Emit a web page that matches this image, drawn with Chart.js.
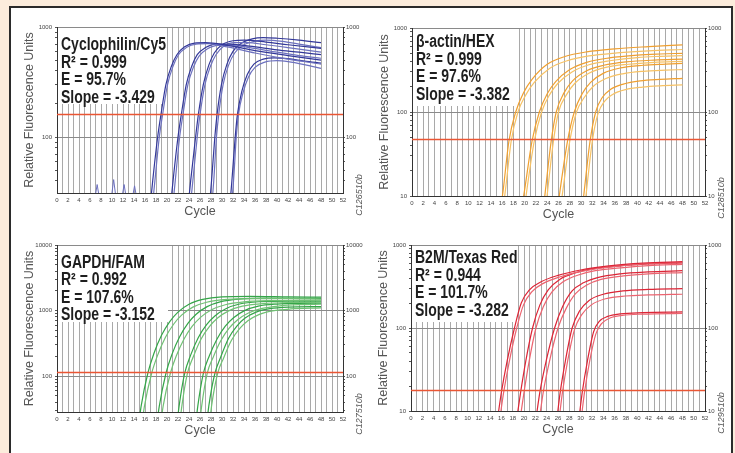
<!DOCTYPE html>
<html>
<head>
<meta charset="utf-8">
<script src="https://cdn.jsdelivr.net/npm/chart.js@4.4.1/dist/chart.umd.min.js"></script>
<style>
    body { margin: 0; width: 735px; height: 453px; overflow: hidden; background: #fcecdc; position: relative; }
    #frame { position: absolute; left: 9px; top: 6px; width: 724px; height: 470px; box-sizing: border-box; border: 2px solid #2b2b2b; background: #fff; }
    canvas { position: absolute; }
</style>
</head>
<body>
<div id="frame"></div>
<canvas id="c1"></canvas>
<canvas id="c2"></canvas>
<canvas id="c3"></canvas>
<canvas id="c4"></canvas>
<script>
// x axis: cycles 0..52, a grid line every cycle, a label every 2
var cycleLabels = [0, 2, 4, 6, 8, 10, 12, 14, 16, 18, 20, 22, 24, 26, 28, 30, 32, 34, 36, 38, 40, 42, 44, 46, 48, 50, 52];

// ---- Cyclophilin / Cy5 ----
var cy5Text = ["Cyclophilin/Cy5", "R² = 0.999", "E = 95.7%", "Slope = -3.429"];
var cy5Threshold = 160;
var cy5Ticks = [40, 50, 60, 70, 80, 90, 100, 200, 300, 400, 500, 600, 700, 800, 900, 1000];
var cy5Labels = [100, 1000];
var cy5Curves = [
    [[16.8, 20], [17.4, 40], [18.3, 100], [18.9, 160], [19.8, 300], [20.8, 440], [21.8, 560], [23.2, 660], [25, 715], [27, 720], [31, 680], [36, 610], [42, 550], [48, 500]],
    [[17.2, 20], [17.8, 40], [18.6, 100], [19.2, 160], [20.1, 300], [21.1, 440], [22.1, 560], [23.5, 650], [25.3, 700], [27.5, 705], [31, 660], [36, 580], [42, 510], [48, 460]],
    [[20.5, 20], [21.1, 40], [22.0, 100], [22.6, 160], [23.5, 300], [24.5, 440], [25.5, 560], [27, 650], [29, 700], [31, 700], [35, 670], [40, 620], [44, 590], [48, 560]],
    [[20.9, 20], [21.5, 40], [22.3, 100], [22.9, 160], [23.8, 300], [24.8, 430], [25.8, 540], [27.3, 630], [29.3, 680], [31.5, 680], [35, 650], [40, 590], [44, 550], [48, 520]],
    [[23.7, 20], [24.3, 40], [25.2, 100], [25.7, 160], [26.6, 300], [27.6, 450], [28.6, 580], [30, 690], [32, 750], [34, 760], [38, 730], [42, 690], [48, 640]],
    [[24.1, 20], [24.7, 40], [25.5, 100], [26.0, 160], [26.9, 300], [27.9, 440], [28.9, 560], [30.3, 670], [32.3, 720], [34.5, 720], [38, 690], [42, 650], [48, 590]],
    [[27.6, 20], [28.1, 40], [28.7, 100], [29.1, 160], [29.9, 300], [30.9, 460], [32, 600], [33.5, 710], [35.5, 780], [37.5, 800], [40, 790], [44, 760], [48, 720]],
    [[28.0, 20], [28.5, 40], [29.0, 100], [29.4, 160], [30.2, 300], [31.2, 450], [32.3, 580], [33.8, 680], [35.8, 740], [38, 760], [41, 740], [44, 700], [48, 650]],
    [[31.3, 20], [31.8, 40], [32.4, 100], [32.8, 160], [33.6, 260], [34.6, 370], [35.8, 460], [37.5, 510], [39.5, 525], [42, 515], [45, 490], [48, 470]],
    [[31.6, 20], [32.1, 40], [32.6, 100], [33.0, 160], [33.8, 250], [34.8, 350], [36, 430], [37.8, 480], [40, 495], [42, 485], [45, 455], [48, 420]]
];
// baseline noise spikes before take-off
var cy5Noise = [[0, 26], [6.8, 26], [7.3, 37], [7.8, 26], [9.8, 26], [10.3, 41], [10.8, 26], [11.7, 26], [12.2, 37], [12.7, 26], [13.6, 26], [14.1, 36], [14.6, 26], [17, 26]];

// ---- beta-actin / HEX ----
var hexText = ["β-actin/HEX", "R² = 0.999", "E = 97.6%", "Slope = -3.382"];
var hexThreshold = 47;
var hexTicks = [10, 20, 30, 40, 50, 60, 70, 80, 90, 100, 200, 300, 400, 500, 600, 700, 800, 900, 1000];
var hexLabels = [10, 100, 1000];
var hexCurves = [
    [[15.6, 6], [16.2, 12], [17.2, 45], [18.4, 100], [19.8, 170], [21.3, 245], [24, 370], [27, 455], [31, 520], [36, 565], [42, 600], [48, 630]],
    [[16.0, 6], [16.6, 12], [17.6, 45], [18.8, 100], [20.2, 160], [21.7, 225], [24.4, 330], [27.4, 405], [31.4, 465], [36.4, 505], [42, 535], [48, 555]],
    [[19.3, 6], [20.0, 12], [21.3, 45], [22.6, 100], [24, 165], [25.5, 230], [28, 320], [31, 390], [35, 440], [40, 475], [44, 490], [48, 500]],
    [[19.8, 6], [20.4, 12], [21.7, 45], [23.0, 100], [24.4, 160], [25.9, 220], [28.4, 300], [31.4, 365], [35.4, 410], [40, 445], [44, 460], [48, 470]],
    [[23.2, 6], [23.7, 12], [24.7, 45], [25.6, 100], [27, 170], [28.5, 235], [31, 310], [34, 360], [38, 395], [43, 415], [48, 425]],
    [[23.6, 6], [24.1, 12], [25.1, 45], [26.0, 100], [27.4, 160], [28.9, 220], [31.4, 290], [34.4, 340], [38.4, 370], [43, 390], [48, 400]],
    [[25.7, 6], [26.3, 12], [27.6, 45], [28.8, 100], [30.2, 165], [31.7, 225], [34, 290], [37, 335], [41, 360], [45, 372], [48, 380]],
    [[26.2, 6], [26.8, 12], [28.0, 45], [29.2, 100], [30.6, 150], [32.1, 200], [34.4, 250], [37.4, 285], [41, 305], [45, 315], [48, 320]],
    [[30.1, 6], [30.6, 12], [31.6, 45], [32.6, 100], [33.8, 150], [35.2, 185], [37.5, 215], [40.5, 235], [44, 245], [48, 252]],
    [[30.5, 6], [31.0, 12], [32.0, 45], [33.0, 95], [34.2, 135], [35.6, 162], [37.9, 185], [40.9, 198], [44, 205], [48, 210]]
];

// ---- GAPDH / FAM ----
var famText = ["GAPDH/FAM", "R² = 0.992", "E = 107.6%", "Slope = -3.152"];
var famThreshold = 114;
var famTicks = [30, 40, 50, 60, 70, 80, 90, 100, 200, 300, 400, 500, 600, 700, 800, 900, 1000, 2000, 3000, 4000, 5000, 6000, 7000, 8000, 9000, 10000];
var famLabels = [100, 1000, 10000];
var famCurves = [
    [[14.7, 15], [15.3, 35], [16.5, 110], [17.6, 220], [19, 420], [20.5, 680], [22, 950], [24, 1250], [26.5, 1480], [30, 1620], [35, 1650], [42, 1620], [48, 1600]],
    [[15.3, 15], [15.9, 35], [17.2, 110], [18.3, 210], [19.7, 390], [21.2, 620], [22.7, 860], [24.7, 1130], [27.2, 1340], [31, 1480], [36, 1520], [42, 1520], [48, 1500]],
    [[18.0, 15], [18.6, 35], [19.8, 110], [20.9, 215], [22.3, 400], [23.8, 640], [25.3, 880], [27.3, 1150], [29.8, 1370], [33, 1500], [38, 1550], [48, 1540]],
    [[18.7, 15], [19.3, 35], [20.6, 110], [21.7, 205], [23.1, 370], [24.6, 580], [26.1, 790], [28.1, 1030], [30.6, 1230], [34, 1360], [39, 1420], [48, 1440]],
    [[21.7, 15], [22.2, 35], [23.2, 110], [24.3, 210], [25.7, 390], [27.2, 610], [28.7, 830], [30.7, 1070], [33.2, 1260], [37, 1370], [42, 1400], [48, 1400]],
    [[22.2, 15], [22.7, 35], [23.7, 110], [24.8, 200], [26.2, 370], [27.7, 570], [29.2, 770], [31.2, 990], [33.7, 1170], [37.5, 1280], [42, 1330], [48, 1340]],
    [[25.1, 15], [25.6, 35], [26.6, 110], [27.7, 205], [29.1, 370], [30.6, 580], [32.1, 780], [34.1, 1000], [36.6, 1170], [40, 1260], [44, 1290], [48, 1300]],
    [[25.8, 15], [26.3, 35], [27.3, 110], [28.4, 195], [29.8, 350], [31.3, 540], [32.8, 720], [34.8, 920], [37.3, 1080], [40.5, 1180], [44, 1230], [48, 1250]],
    [[27.1, 15], [27.6, 35], [28.7, 110], [29.8, 200], [31.2, 380], [32.7, 580], [34.2, 770], [36.2, 950], [38.7, 1070], [42, 1130], [48, 1150]],
    [[27.6, 15], [28.1, 35], [29.2, 110], [30.3, 190], [31.7, 350], [33.2, 530], [34.7, 700], [36.7, 870], [39.2, 990], [42.5, 1060], [48, 1100]]
];

// ---- B2M / Texas Red ----
var texText = ["B2M/Texas Red", "R² = 0.944", "E = 101.7%", "Slope = -3.282"];
var texThreshold = 17.6;
var texTicks = [10, 20, 30, 40, 50, 60, 70, 80, 90, 100, 200, 300, 400, 500, 600, 700, 800, 900, 1000];
var texLabels = [10, 100, 1000];
var texCurves = [
    [[15.3, 8], [16.0, 17], [17.0, 40], [18.3, 100], [19.5, 200], [21, 290], [23, 360], [26, 430], [30, 500], [35, 560], [41, 605], [48, 630]],
    [[15.7, 8], [16.4, 17], [17.4, 40], [18.7, 100], [19.9, 190], [21.4, 275], [23.4, 345], [26.4, 415], [30.4, 485], [35.4, 545], [41, 590], [48, 615]],
    [[18.7, 8], [19.4, 17], [20.3, 40], [21.5, 100], [22.8, 190], [24.3, 290], [26.3, 385], [29, 460], [32, 515], [37, 560], [42, 590], [48, 610]],
    [[19.3, 8], [20.0, 17], [20.9, 40], [22.1, 100], [23.4, 180], [24.9, 270], [26.9, 360], [29.6, 435], [32.6, 490], [37.6, 535], [42, 565], [48, 585]],
    [[22.1, 8], [22.8, 17], [23.9, 40], [25.4, 100], [26.8, 180], [28.5, 280], [30.5, 350], [33, 405], [37, 450], [42, 475], [48, 490]],
    [[22.7, 8], [23.4, 17], [24.5, 40], [26.0, 100], [27.4, 170], [29.1, 260], [31.1, 330], [33.6, 385], [37.6, 425], [42, 450], [48, 465]],
    [[25.8, 8], [26.4, 17], [27.3, 40], [28.5, 100], [29.8, 160], [31.5, 215], [34, 255], [37.5, 280], [42, 292], [48, 298]],
    [[26.2, 8], [26.8, 17], [27.7, 40], [28.9, 95], [30.2, 145], [31.9, 190], [34.4, 225], [37.9, 243], [42, 250], [48, 255]],
    [[29.7, 8], [30.3, 17], [31.2, 40], [32.3, 90], [33.3, 120], [34.8, 138], [37, 148], [41, 153], [48, 156]],
    [[30.1, 8], [30.7, 17], [31.6, 40], [32.7, 85], [33.7, 113], [35.2, 132], [37.4, 142], [41, 147], [48, 150]]
];

var narrowFont = "'Liberation Sans Narrow', 'Liberation Sans', sans-serif";
var plainFont = "'Liberation Sans', Arial, sans-serif";

// text box, axis titles and the figure code
var panelDecor = {
    id: 'panelDecor',
    beforeDatasetsDraw: function (chart, args, opts) {
        var ctx = chart.ctx, a = chart.chartArea;
        ctx.save();
        ctx.fillStyle = '#fff';
        ctx.fillRect(a.left + 1, a.top + 1, opts.boxW, opts.boxH);
        ctx.restore();
    },
    afterDatasetsDraw: function (chart, args, opts) {
        var ctx = chart.ctx, a = chart.chartArea;
        ctx.save();
        ctx.fillStyle = '#1e1e1e';
        ctx.font = 'bold 17.5px ' + plainFont;
        ctx.textAlign = 'left';
        ctx.textBaseline = 'alphabetic';
        for (var i = 0; i < opts.lines.length; i++) {
            // condensed look: squeeze the text horizontally
            ctx.save();
            ctx.translate(a.left + 4, a.top + opts.textTop + i * 17.5);
            ctx.scale(0.8, 1);
            ctx.fillText(opts.lines[i], 0, 0);
            ctx.restore();
        }
        ctx.fillStyle = '#555';
        ctx.font = '12.5px ' + plainFont;
        ctx.textAlign = 'center';
        ctx.textBaseline = 'middle';
        ctx.fillText('Cycle', (a.left + a.right) / 2, a.bottom + 19);
        ctx.translate(a.left - 27, (a.top + a.bottom) / 2);
        ctx.rotate(-Math.PI / 2);
        ctx.fillText('Relative Fluorescence Units', 0, 0);
        ctx.restore();

        ctx.save();
        ctx.translate(a.right + 16, a.bottom + 2);
        ctx.rotate(-Math.PI / 2);
        ctx.fillStyle = '#555';
        ctx.font = 'italic 9px ' + plainFont;
        ctx.textAlign = 'center';
        ctx.textBaseline = 'middle';
        ctx.fillText(opts.code, 0, 0);
        ctx.restore();
    }
};

function logAxis(pos, yMin, yMax, ticks, labels, width) {
    return {
        type: 'logarithmic',
        position: pos,
        min: yMin,
        max: yMax,
        afterFit: function (s) { s.width = width; },
        afterBuildTicks: function (s) { s.ticks = ticks.map(function (v) { return { value: v }; }); },
        ticks: {
            autoSkip: false,
            padding: pos == 'left' ? 3 : 1,
            color: '#444',
            font: { family: narrowFont, size: 6 },
            callback: function (v) { return labels.indexOf(v) >= 0 ? String(v) : ''; }
        },
        grid: {
            drawOnChartArea: pos == 'left',
            color: function (c) { return c.tick && labels.indexOf(c.tick.value) >= 0 ? '#8a8a8a' : 'rgba(0,0,0,0)'; },
            tickColor: '#555',
            tickLength: 2
        },
        border: { color: '#333', width: 1 }
    };
}

function makePanel(p) {
    var canvas = document.getElementById(p.id);
    var w = p.R - p.L + 47 + 30, h = p.B - p.T + 22 + 35;
    canvas.width = w;
    canvas.height = h;
    canvas.style.left = (p.L - 47) + 'px';
    canvas.style.top = (p.T - 22) + 'px';
    canvas.style.width = w + 'px';
    canvas.style.height = h + 'px';

    var datasets = [{
        data: [[0, p.threshold], [52, p.threshold]],
        borderColor: '#ea5634', borderWidth: 1.5, pointRadius: 0, tension: 0
    }];
    if (p.noise) {
        datasets.push({ data: p.noise, borderColor: p.colors[1], borderWidth: 1, pointRadius: 0, tension: 0 });
    }
    p.curves.forEach(function (curve, i) {
        datasets.push({
            data: curve,
            borderColor: p.colors[i % 2],
            borderWidth: 1.2,
            pointRadius: 0,
            cubicInterpolationMode: 'monotone'
        });
    });

    return new Chart(canvas, {
        type: 'line',
        data: { datasets: datasets },
        options: {
            responsive: false,
            animation: false,
            devicePixelRatio: 1,
            layout: { padding: { left: 0, right: 0, top: 22, bottom: 15 } },
            elements: { line: { capBezierPoints: false, fill: false } },
            plugins: {
                legend: { display: false },
                tooltip: { enabled: false },
                panelDecor: { lines: p.text, code: p.code, boxW: p.boxW, boxH: p.boxH, textTop: p.textTop }
            },
            scales: {
                x: {
                    type: 'linear',
                    min: 0,
                    max: 52,
                    afterFit: function (s) { s.height = 20; },
                    ticks: {
                        stepSize: 1,
                        maxTicksLimit: 60,
                        autoSkip: false,
                        maxRotation: 0,
                        padding: 4,
                        color: '#444',
                        font: { family: narrowFont, size: 6 },
                        callback: function (v) { return cycleLabels.indexOf(v) >= 0 ? String(v) : ''; }
                    },
                    grid: { color: '#a9a9a9', lineWidth: 1, drawTicks: false },
                    border: { color: '#333', width: 1 }
                },
                y: logAxis('left', p.yMin, p.yMax, p.ticks, p.labels, 47),
                y2: logAxis('right', p.yMin, p.yMax, p.ticks, p.labels, 30)
            }
        },
        plugins: [panelDecor]
    });
}

makePanel({ id: 'c1', L: 57, T: 27, R: 343, B: 193, yMin: 31, yMax: 1000, ticks: cy5Ticks, labels: cy5Labels,
    curves: cy5Curves, noise: cy5Noise, threshold: cy5Threshold, colors: ['#33389a', '#6d71bf'],
    text: cy5Text, code: 'C126510b', boxW: 109, boxH: 76, textTop: 23 });
makePanel({ id: 'c2', L: 412, T: 28, R: 705, B: 196, yMin: 10, yMax: 1000, ticks: hexTicks, labels: hexLabels,
    curves: hexCurves, threshold: hexThreshold, colors: ['#f0a030', '#f7c264'],
    text: hexText, code: 'C128510b', boxW: 106, boxH: 77, textTop: 19 });
makePanel({ id: 'c3', L: 57, T: 245, R: 343, B: 412, yMin: 28.5, yMax: 10000, ticks: famTicks, labels: famLabels,
    curves: famCurves, threshold: famThreshold, colors: ['#34a648', '#70c274'],
    text: famText, code: 'C127510b', boxW: 110, boxH: 76, textTop: 22.5 });
makePanel({ id: 'c4', L: 411, T: 245, R: 705, B: 411, yMin: 10, yMax: 1000, ticks: texTicks, labels: texLabels,
    curves: texCurves, threshold: texThreshold, colors: ['#dd2536', '#ec6470'],
    text: texText, code: 'C129510b', boxW: 102, boxH: 76, textTop: 18 });
</script>
</body>
</html>
